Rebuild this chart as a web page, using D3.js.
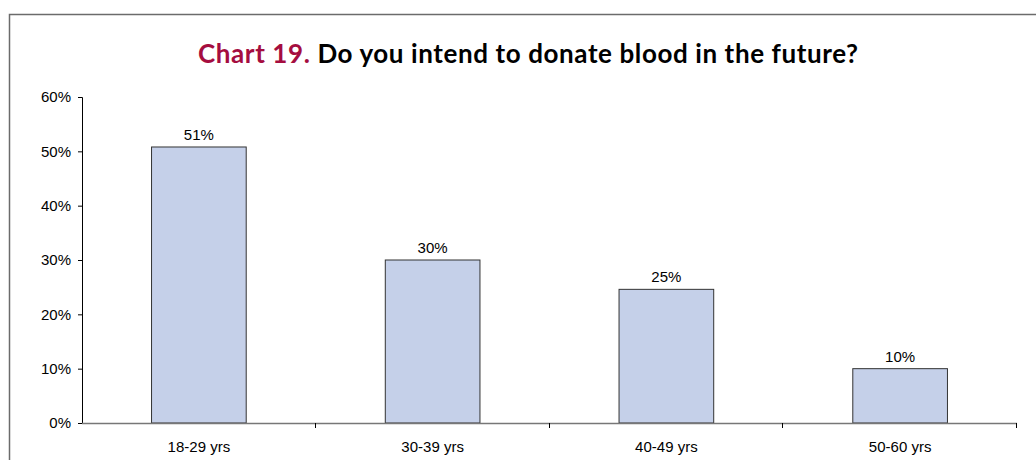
<!DOCTYPE html>
<html>
<head>
<meta charset="utf-8">
<script src="https://cdn.jsdelivr.net/npm/d3@7"></script>
<style>
  body { margin: 0; background: #fff; }
  svg { display: block; }
</style>
</head>
<body>
<div class="chart"></div>
<script>
// chart data
var categories = ["18-29 yrs", "30-39 yrs", "40-49 yrs", "50-60 yrs"];
var values = [50.8, 30, 24.6, 10];
var yTicks = [0, 10, 20, 30, 40, 50, 60];

var svgWidth = 1036, svgHeight = 460;
var margin = { top: 97, right: 19, bottom: 37, left: 82 };
var width = svgWidth - margin.left - margin.right;
var height = svgHeight - margin.top - margin.bottom;

var svg = d3.select(".chart")
    .append("svg")
    .attr("width", svgWidth)
    .attr("height", svgHeight);

// outer frame (left + top edges only visible)
svg.append("path")
    .attr("d", "M9.5," + svgHeight + " V14.5 H" + svgWidth)
    .attr("fill", "none")
    .attr("stroke", "#6b6b6b")
    .attr("stroke-width", 1.5);

// title
var title = svg.append("text")
    .attr("x", 528)
    .attr("y", 63)
    .attr("text-anchor", "middle")
    .attr("font-family", "Lato, 'Open Sans', sans-serif")
    .attr("font-weight", "bold")
    .attr("font-size", "26px")
    .attr("textLength", 660)
    .attr("lengthAdjust", "spacing");
title.append("tspan").attr("fill", "#a50d3f").text("Chart 19. ");
title.append("tspan").attr("fill", "#000").text("Do you intend to donate blood in the future?");

var chartGroup = svg.append("g")
    .attr("transform", `translate(${margin.left}, ${margin.top})`);

var xScale = d3.scaleBand()
    .domain(categories)
    .range([0, width]);

var yScale = d3.scaleLinear()
    .domain([0, 60])
    .range([height, 0]);

// y axis
var leftAxis = d3.axisLeft(yScale)
    .tickValues(yTicks)
    .tickSize(4)
    .tickPadding(7)
    .tickFormat(d => d + "%");

var yAxis = chartGroup.append("g").call(leftAxis);
yAxis.select(".domain").attr("stroke", "#000");
yAxis.selectAll("text")
    .attr("font-family", "'Liberation Sans', Arial, sans-serif")
    .attr("font-size", "15px")
    .attr("fill", "#000");

// bars
var barW = xScale.bandwidth() * 0.405;
chartGroup.selectAll("rect.bar")
    .data(values)
    .enter()
    .append("rect")
    .attr("class", "bar")
    .attr("x", (d, i) => xScale(categories[i]) + xScale.bandwidth() / 2 - barW / 2)
    .attr("y", d => yScale(d))
    .attr("width", barW)
    .attr("height", d => height - yScale(d))
    .attr("fill", "#c5d0e9")
    .attr("stroke", "#333")
    .attr("stroke-width", 1);

// value labels
chartGroup.selectAll("text.val")
    .data(values)
    .enter()
    .append("text")
    .attr("class", "val")
    .attr("x", (d, i) => xScale(categories[i]) + xScale.bandwidth() / 2)
    .attr("y", d => yScale(d) - 7)
    .attr("text-anchor", "middle")
    .attr("font-family", "'Liberation Sans', Arial, sans-serif")
    .attr("font-size", "15px")
    .text(d => Math.round(d) + "%");

// x axis: ticks at category boundaries
var xAxis = chartGroup.append("g")
    .attr("transform", `translate(0, ${height})`);

xAxis.append("line")
    .attr("x1", 0)
    .attr("x2", width)
    .attr("y1", 0.5)
    .attr("y2", 0.5)
    .attr("stroke", "#777")
    .attr("stroke-width", 1.5);

var bounds = categories.map(c => xScale(c)).concat([width]);
xAxis.selectAll("line.tick")
    .data(bounds.slice(1))
    .enter()
    .append("line")
    .attr("class", "tick")
    .attr("x1", d => Math.round(d) - 0.5)
    .attr("x2", d => Math.round(d) - 0.5)
    .attr("y1", 0)
    .attr("y2", 5)
    .attr("stroke", "#000");

xAxis.selectAll("text")
    .data(categories)
    .enter()
    .append("text")
    .attr("x", d => xScale(d) + xScale.bandwidth() / 2)
    .attr("y", 29)
    .attr("text-anchor", "middle")
    .attr("font-family", "'Liberation Sans', Arial, sans-serif")
    .attr("font-size", "15px")
    .text(d => d);
</script>
</body>
</html>
